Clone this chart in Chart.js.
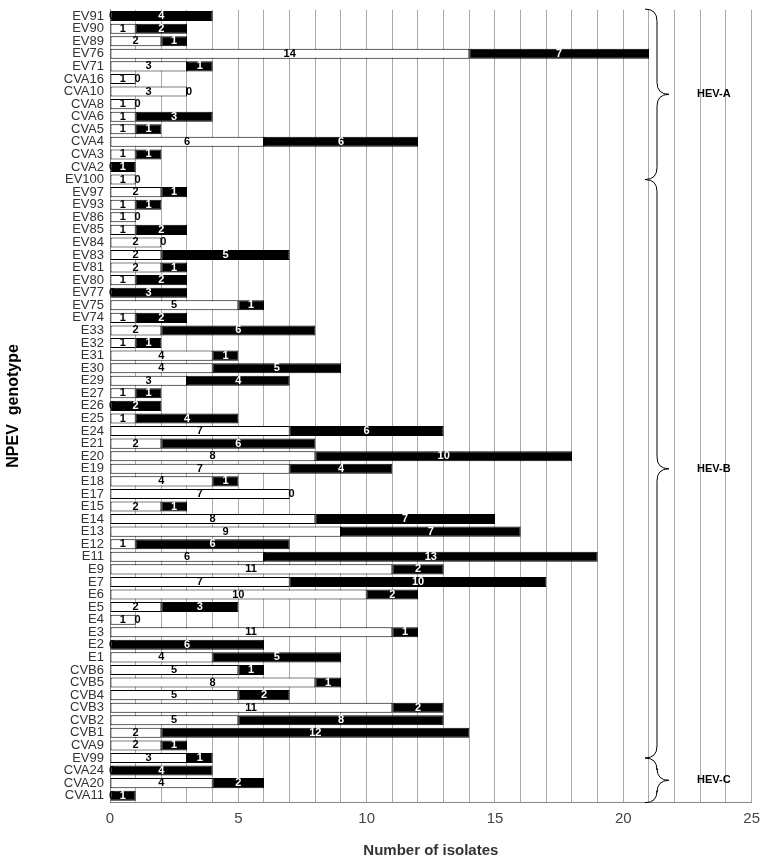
<!DOCTYPE html>
<html><head><meta charset="utf-8">
<script src="https://cdn.jsdelivr.net/npm/chart.js@4/dist/chart.umd.min.js"></script>
<style>html,body{margin:0;background:#fff}#wrap{width:768px;height:868px}</style>
</head><body><div id="wrap"><canvas id="c"></canvas></div>
<script>
const genotypes = ['EV91','EV90','EV89','EV76','EV71','CVA16','CVA10','CVA8','CVA6','CVA5','CVA4','CVA3','CVA2','EV100','EV97','EV93','EV86','EV85','EV84','EV83','EV81','EV80','EV77','EV75','EV74','E33','E32','E31','E30','E29','E27','E26','E25','E24','E21','E20','E19','E18','E17','E15','E14','E13','E12','E11','E9','E7','E6','E5','E4','E3','E2','E1','CVB6','CVB5','CVB4','CVB3','CVB2','CVB1','CVA9','EV99','CVA24','CVA20','CVA11'];
const whiteVals = [0,1,2,14,3,1,3,1,1,1,6,1,0,1,2,1,1,1,2,2,2,1,0,5,1,2,1,4,4,3,1,0,1,7,2,8,7,4,7,2,8,9,1,6,11,7,10,2,1,11,0,4,5,8,5,11,5,2,2,3,0,4,0];
const blackVals = [4,2,1,7,1,0,0,0,3,1,6,1,1,0,1,1,0,2,0,5,1,2,3,1,2,6,1,1,5,4,1,2,4,6,6,10,4,1,0,1,7,7,6,13,2,10,2,3,0,1,6,5,1,1,2,2,8,12,1,1,4,2,1];
const groups = [['HEV-A','EV91','EV100'],['HEV-B','EV100','EV99'],['HEV-C','EV99','CVA11']];

const labelPlugin = {
  id: 'labels',
  afterDatasetsDraw(chart) {
    const ctx = chart.ctx, x = chart.scales.x, y = chart.scales.y;
    ctx.save();
    ctx.font = 'bold 11px Arial, "Liberation Sans", sans-serif';
    ctx.textAlign = 'center'; ctx.textBaseline = 'middle';
    genotypes.forEach((g, i) => {
      const yy = y.getPixelForValue(i);
      const w = whiteVals[i], b = blackVals[i];
      ctx.fillStyle = '#000';
      ctx.fillText(String(w), x.getPixelForValue(w / 2) + (w === 0 ? 2 : 0), yy);
      ctx.fillStyle = b === 0 ? '#000' : '#fff';
      ctx.fillText(String(b), x.getPixelForValue(w + b / 2) + (b === 0 ? 2 : 0), yy);
    });
    ctx.strokeStyle = '#000'; ctx.lineWidth = 1; ctx.fillStyle = '#000';
    ctx.textAlign = 'left';
    const bx = 645, d = 12;
    groups.forEach(([name, a, z]) => {
      const top = y.getPixelForValue(genotypes.indexOf(a)) - (a === 'EV91' ? 7 : 0);
      const bot = y.getPixelForValue(genotypes.indexOf(z)) + (z === 'CVA11' ? 7 : 0);
      const mid = (top + bot) / 2;
      ctx.beginPath();
      ctx.moveTo(bx, top);
      ctx.quadraticCurveTo(bx + d, top, bx + d, top + d);
      ctx.lineTo(bx + d, mid - d);
      ctx.quadraticCurveTo(bx + d, mid, bx + 2 * d, mid);
      ctx.quadraticCurveTo(bx + d, mid, bx + d, mid + d);
      ctx.lineTo(bx + d, bot - d);
      ctx.quadraticCurveTo(bx + d, bot, bx, bot);
      ctx.stroke();
      ctx.fillText(name, bx + 52, mid);
    });
    ctx.restore();
  }
};

new Chart(document.getElementById('c'), {
  type: 'bar',
  data: { labels: genotypes, datasets: [
    { data: whiteVals, backgroundColor: '#fff', borderColor: '#000', borderWidth: 1, borderSkipped: false, barPercentage: 0.8, categoryPercentage: 1 },
    { data: blackVals, backgroundColor: '#000', borderColor: '#000', borderWidth: 1, borderSkipped: false, barPercentage: 0.8, categoryPercentage: 1 }
  ]},
  options: {
    indexAxis: 'y', responsive: true, maintainAspectRatio: false, animation: false,
    layout: { padding: { top: 4, right: 12, bottom: 4, left: 0 } },
    plugins: { legend: { display: false }, tooltip: { enabled: false } },
    scales: {
      x: { stacked: true, min: 0, max: 25,
        ticks: { stepSize: 1, autoSkip: false, maxRotation: 0, padding: 8, color: '#444', font: { size: 15, family: 'Arial, "Liberation Sans"' }, callback: v => v % 5 === 0 ? v : '' },
        grid: { color: '#aaa', drawTicks: false }, border: { color: '#888' },
        title: { display: true, text: 'Number of isolates', color: '#333', padding: { top: 6 }, font: { size: 15, weight: 'bold', family: 'Arial, "Liberation Sans"' } } },
      y: { stacked: true, afterFit: s => { s.width = 110; },
        ticks: { autoSkip: false, color: '#333', padding: 2, font: { size: 13, family: 'Arial, "Liberation Sans"' } },
        grid: { display: false, drawTicks: true, tickLength: 4 }, border: { color: '#888' },
        title: { display: true, text: 'NPEV  genotype', color: '#000', font: { size: 16, weight: 'bold', family: 'Arial, "Liberation Sans"' } } }
    }
  },
  plugins: [labelPlugin]
});
</script></body></html>
